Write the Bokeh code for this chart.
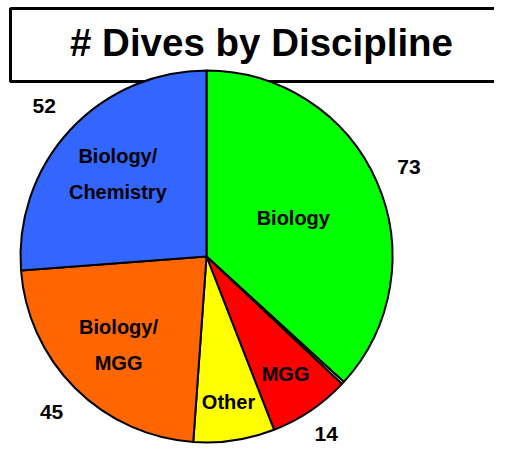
import math
from bokeh.plotting import figure
from bokeh.models import Range1d, ColumnDataSource, Label
from bokeh.core.properties import value
from bokeh.embed import file_html
from bokeh.resources import INLINE

# ---- data ----
categories = ["Biology", "Unassigned", "MGG", "Other", "Biology/MGG", "Biology/Chemistry"]
dives = [73, 0.5, 14, 14, 45, 52]
slice_labels = ["Biology", "", "MGG", "Other", "Biology/\nMGG", "Biology/\nChemistry"]
value_labels = ["73", "", "14", "", "45", "52"]
title_text = "# Dives by Discipline"

# ---- styles ----
colors = ["#00FF00", "#FFFFFF", "#FF0000", "#FFFF00", "#FF6600", "#3366FF"]
inner_rf = [0.51, 0.0, 0.76, 0.79, 0.67, 0.65]
outer_rf = [1.19, 0.0, 1.15, 0.0, 1.18, 1.19]
FONT = "Liberation Sans"

W, H = 494, 445
cx, cy, R = 206, 189, 186

total = sum(dives)
starts, ends, mids = [], [], []
cum = 0.0
for v in dives:
    a0 = math.pi / 2 - 2 * math.pi * cum / total
    cum += v
    a1 = math.pi / 2 - 2 * math.pi * cum / total
    starts.append(a0)
    ends.append(a1)
    mids.append((a0 + a1) / 2)

src = ColumnDataSource(dict(cat=categories, dives=dives, start=starts, end=ends, color=colors))

p = figure(width=W, height=H, x_range=Range1d(0, W), y_range=Range1d(0, H),
           output_backend="svg", toolbar_location=None, min_border=0)
p.axis.visible = False
p.grid.visible = False
p.outline_line_color = None
p.background_fill_color = "white"
p.border_fill_color = "white"

# title frame (extends past the right edge)
p.quad(left=[10], right=[W + 60], top=[437], bottom=[364], fill_color=None,
       line_color="black", line_width=3)

p.wedge(x=cx, y=cy, radius=R, start_angle="start", end_angle="end", direction="clock",
        fill_color="color", line_color="black", line_width=2, source=src)

ix, iy, it = [], [], []
ox, oy, ot = [], [], []
for i in range(len(dives)):
    if slice_labels[i]:
        ix.append(cx + inner_rf[i] * R * math.cos(mids[i]))
        iy.append(cy + inner_rf[i] * R * math.sin(mids[i]))
        it.append(slice_labels[i])
    if value_labels[i]:
        ox.append(cx + outer_rf[i] * R * math.cos(mids[i]))
        oy.append(cy + outer_rf[i] * R * math.sin(mids[i]))
        ot.append(value_labels[i])

p.text(x=ix, y=iy, text=it, text_font=value(FONT), text_font_style="bold",
       text_font_size="20px", text_align="center", text_baseline="middle",
       text_line_height=1.65, text_color="black")
p.text(x=ox, y=oy, text=ot, text_font=value(FONT), text_font_style="bold",
       text_font_size="21px", text_align="center", text_baseline="middle",
       text_color="black")

title = Label(x=261, y=403, text=title_text, text_font=FONT, text_font_style="bold",
              text_font_size="38.5px", text_align="center", text_baseline="middle",
              text_color="black")
p.add_layout(title)

open("out.html", "w").write(file_html(p, INLINE))
